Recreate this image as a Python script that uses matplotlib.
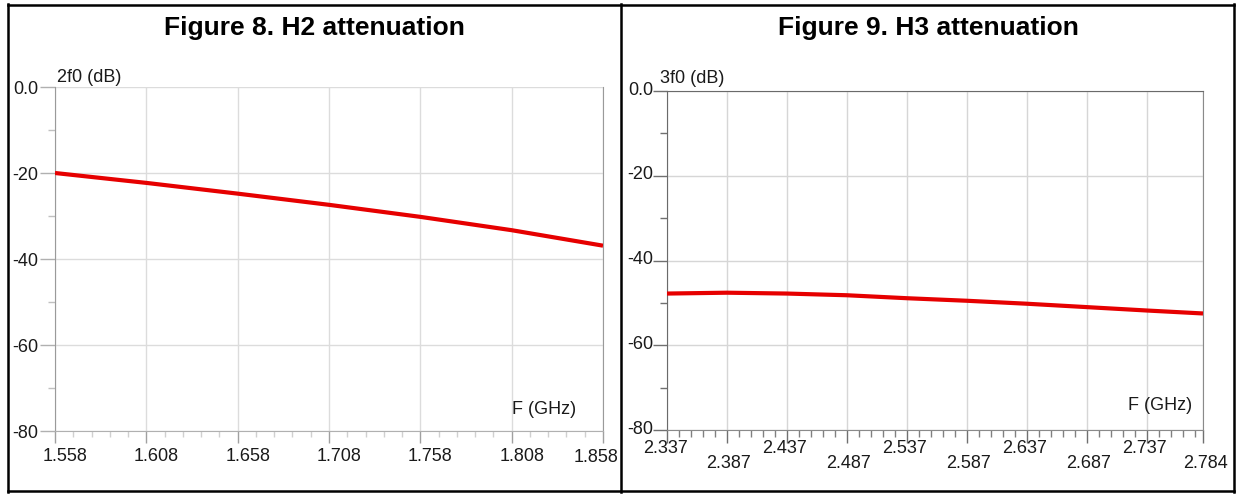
import numpy as np
import matplotlib.pyplot as plt
from matplotlib.lines import Line2D
from matplotlib.ticker import FixedLocator
from matplotlib.transforms import ScaledTranslation

plt.rcParams['font.family'] = ['Liberation Sans', 'DejaVu Sans']

# Figure 8: 2nd harmonic attenuation
freq_h2 = [1.558, 1.608, 1.658, 1.708, 1.758, 1.808, 1.858]
att_h2 = [-20.0, -22.3, -24.8, -27.4, -30.2, -33.3, -36.9]
xticks_h2 = [1.558, 1.608, 1.658, 1.708, 1.758, 1.808, 1.858]

# Figure 9: 3rd harmonic attenuation
freq_h3 = [2.337, 2.387, 2.437, 2.487, 2.537, 2.587, 2.637, 2.687, 2.737, 2.784]
att_h3 = [-47.8, -47.6, -47.8, -48.2, -48.9, -49.5, -50.2, -51.0, -51.8, -52.5]
xticks_h3 = [2.337, 2.387, 2.437, 2.487, 2.537, 2.587, 2.637, 2.687, 2.737, 2.784]

yticks = [0, -20, -40, -60, -80]
ytick_labels = ['0.0', '-20', '-40', '-60', '-80']
titles = ['Figure 8. H2 attenuation', 'Figure 9. H3 attenuation']
ylabels = ['2f0 (dB)', '3f0 (dB)']

W, H = 1240, 495
fig = plt.figure(figsize=(W / 100, H / 100), dpi=100)


def px_box(x0, y0, x1, y1):
    return [x0 / W, 1 - y1 / H, (x1 - x0) / W, (y1 - y0) / H]


def pt(px):
    return px * 0.72


def shift(label, dx, dy):
    # move a text by pixels (dy positive = down)
    label.set_transform(label.get_transform() +
                        ScaledTranslation(dx / 100, -dy / 100, fig.dpi_scale_trans))


red = '#e60000'
txt = '#1a1a1a'

# ---- left panel ----
ax1 = fig.add_axes(px_box(55, 87, 603, 431))
ax1.plot(freq_h2, att_h2, color=red, lw=3, solid_capstyle='butt', zorder=3)
ax1.set_xlim(1.558, 1.858)
ax1.set_ylim(-80, 0)
ax1.set_xticks(xticks_h2, [f'{v:.3f}' for v in xticks_h2])
ax1.xaxis.set_minor_locator(FixedLocator(np.arange(1.558, 1.858, 0.01)))
ax1.set_yticks(yticks, ytick_labels)
ax1.yaxis.set_minor_locator(FixedLocator([-10, -30, -50, -70]))
ax1.grid(True, which='major', color='#dcdcdc', lw=1)
ax1.tick_params(axis='x', which='major', length=pt(12), width=1, color='#a0a0a0',
                labelsize=13, labelcolor=txt, pad=pt(5))
ax1.tick_params(axis='x', which='minor', length=pt(6), width=1, color='#d0d0d0')
ax1.tick_params(axis='y', which='major', length=pt(15), width=1, color='#b0b0b0',
                labelsize=13, labelcolor=txt, pad=pt(2))
ax1.tick_params(axis='y', which='minor', length=pt(7), width=1, color='#c0c0c0')
ax1.spines['top'].set_visible(False)
for s in ['left', 'right']:
    ax1.spines[s].set_color('#9a9a9a')
ax1.spines['bottom'].set_color('#b0b0b0')
labs = ax1.get_xticklabels()
for i, lab in enumerate(labs):
    if i == len(labs) - 1:
        shift(lab, -7, 1)
    else:
        shift(lab, 10, 0)
ax1.annotate(ylabels[0], xy=(0, 1), xycoords='axes fraction', xytext=(pt(2), pt(9)),
             textcoords='offset points', fontsize=13, color=txt, va='center', ha='left')
ax1.annotate('F (GHz)', xy=(1, 0), xycoords='axes fraction', xytext=(pt(-59), pt(21)),
             textcoords='offset points', fontsize=13, color=txt, va='center', ha='center')

# ---- right panel ----
ax2 = fig.add_axes(px_box(667, 91, 1203, 430))
ax2.plot(freq_h3, att_h3, color=red, lw=3, solid_capstyle='butt', zorder=3)
ax2.set_xlim(2.337, 2.784)
ax2.set_ylim(-80, 0)
ax2.set_xticks(xticks_h3, [f'{v:.3f}' for v in xticks_h3])
ax2.xaxis.set_minor_locator(FixedLocator(np.arange(2.337, 2.784, 0.01)))
ax2.set_yticks(yticks, ytick_labels)
ax2.yaxis.set_minor_locator(FixedLocator([-10, -30, -50, -70]))
ax2.grid(True, which='major', color='#d6d6d6', lw=1)
ax2.tick_params(axis='x', which='major', length=pt(13), width=1, color='#707070',
                labelsize=13, labelcolor=txt, pad=0)
ax2.tick_params(axis='x', which='minor', length=pt(7), width=1, color='#808080')
ax2.tick_params(axis='y', which='major', length=pt(14), width=1, color='#707070',
                labelsize=13, labelcolor=txt, pad=0)
ax2.tick_params(axis='y', which='minor', length=pt(7), width=1, color='#707070')
for s in ['left', 'top']:
    ax2.spines[s].set_color('#6a6a6a')
for s in ['right', 'bottom']:
    ax2.spines[s].set_color('#8a8a8a')
for i, lab in enumerate(ax2.get_xticklabels()):
    if i % 2 == 1:
        shift(lab, 2, 12)
    else:
        shift(lab, -2, -3)
for lab in ax2.get_yticklabels():
    shift(lab, 0, -3)
ax2.annotate(ylabels[1], xy=(0, 1), xycoords='axes fraction', xytext=(pt(-7), pt(13)),
             textcoords='offset points', fontsize=13, color=txt, va='center', ha='left')
ax2.annotate('F (GHz)', xy=(1, 0), xycoords='axes fraction', xytext=(pt(-43), pt(25)),
             textcoords='offset points', fontsize=13, color=txt, va='center', ha='center')

# ---- titles and table frame ----
fig.text(314 / W, 1 - 28 / H, titles[0], ha='center', va='center',
         fontsize=19, fontweight='bold', color='black')
fig.text(928 / W, 1 - 28 / H, titles[1], ha='center', va='center',
         fontsize=19, fontweight='bold', color='black')

frame = [((8, 8), (4, 492)), ((621, 621), (4, 492)), ((1234, 1234), (4, 492)),
         ((8, 1234), (5, 5)), ((8, 1234), (491, 491))]
for xs, ys in frame:
    fig.add_artist(Line2D([x / W for x in xs], [1 - y / H for y in ys],
                          transform=fig.transFigure, color='black', lw=1.8))

fig.savefig('out.png', dpi=100)
